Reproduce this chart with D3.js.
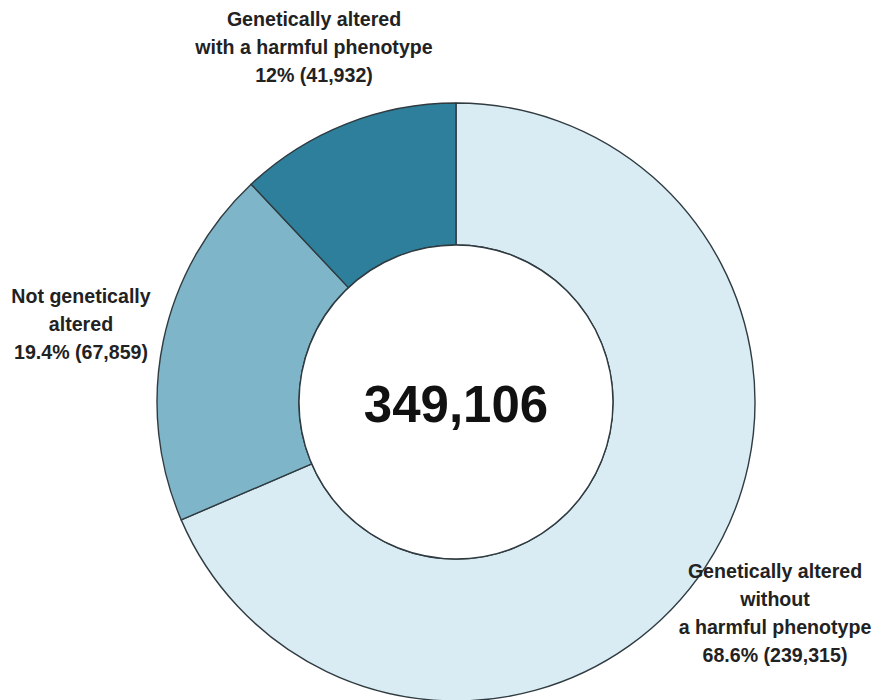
<!DOCTYPE html>
<html>
<head>
<meta charset="utf-8">
<script src="https://cdn.jsdelivr.net/npm/d3@7"></script>
<style>
  html, body { margin: 0; padding: 0; background: #fff; }
  svg { display: block; }
</style>
</head>
<body>
<svg id="chart" width="877" height="700"></svg>
<script>
const categories = [
  "Genetically altered without a harmful phenotype",
  "Not genetically altered",
  "Genetically altered with a harmful phenotype"
];
const values = [239315, 67859, 41932];
const percents = ["68.6%", "19.4%", "12%"];
const labelLines = [
  ["Genetically altered", "without", "a harmful phenotype"],
  ["Not genetically", "altered"],
  ["Genetically altered", "with a harmful phenotype"]
];
const colors = ["#d9ecf3", "#7fb5c8", "#2e7f9b"];
const total = 349106;

const svg = d3.select("#chart");
const cx = 456, cy = 402;
const outerR = 299, innerR = 157;

const pie = d3.pie().sort(null).value(d => d.value);
const data = categories.map((c, i) => ({ name: c, value: values[i], i }));
const arcs = pie(data);
const arc = d3.arc().innerRadius(innerR).outerRadius(outerR);

const g = svg.append("g").attr("transform", `translate(${cx},${cy})`);
g.selectAll("path.slice")
  .data(arcs)
  .join("path")
  .attr("class", "slice")
  .attr("d", arc)
  .attr("fill", d => colors[d.data.i])
  .attr("stroke", "#2f3b40")
  .attr("stroke-width", 1.4);

g.append("circle")
  .attr("r", innerR)
  .attr("fill", "#fff")
  .attr("stroke", "#2f3b40")
  .attr("stroke-width", 1.4);

g.append("text")
  .attr("x", 0)
  .attr("y", 20)
  .attr("text-anchor", "middle")
  .attr("font-family", "'Liberation Sans', Arial, Helvetica, sans-serif")
  .attr("font-weight", "bold")
  .attr("font-size", 51)
  .attr("fill", "#111")
  .text(d3.format(",")(total));

// label anchor positions (absolute), one per category
const labelPos = [
  { x: 775, y: 578 },
  { x: 81, y: 303 },
  { x: 314, y: 26 }
];
const lineH = 28;
labelLines.forEach((lines, i) => {
  const allLines = lines.concat([`${percents[i]} (${d3.format(",")(values[i])})`]);
  const t = svg.append("text")
    .attr("text-anchor", "middle")
    .attr("font-family", "'Liberation Sans', Arial, Helvetica, sans-serif")
    .attr("font-weight", "bold")
    .attr("font-size", 19.6)
    .attr("fill", "#222");
  allLines.forEach((ln, k) => {
    t.append("tspan")
      .attr("x", labelPos[i].x)
      .attr("y", labelPos[i].y + k * lineH)
      .text(ln);
  });
});
</script>
</body>
</html>
